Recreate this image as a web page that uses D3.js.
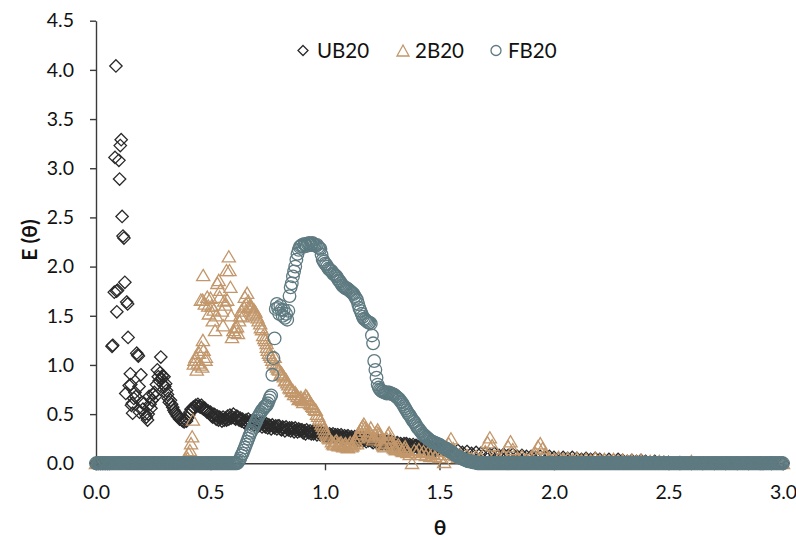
<!DOCTYPE html>
<html>
<head>
<meta charset="utf-8">
<script src="https://cdn.jsdelivr.net/npm/d3@7"></script>
<style>
  body { margin: 0; background: #ffffff; }
  svg { display: block; }
  text { font-family: Lato, "Open Sans", sans-serif; }
</style>
</head>
<body>
<svg id="chart" width="796" height="540"></svg>
<script>
// ---- Axis ticks ----
const xTicks = [0.0, 0.5, 1.0, 1.5, 2.0, 2.5, 3.0];
const yTicks = [0.0, 0.5, 1.0, 1.5, 2.0, 2.5, 3.0, 3.5, 4.0, 4.5];

// ---- Series names (legend order) ----
const seriesNames = ["UB20", "2B20", "FB20"];

// ---- UB20, early part: [theta, E(theta)] ----
const ub20Early = [
  [0.00,0],[0.01,0],[0.02,0],[0.03,0],[0.04,0],[0.05,0],[0.06,0],
  [0.070,1.19],[0.073,1.20],[0.080,1.74],[0.083,3.11],[0.087,4.04],[0.090,1.75],[0.091,1.54],[0.094,1.76],
  [0.100,3.08],[0.103,2.89],[0.106,3.23],[0.110,3.29],[0.114,2.51],[0.118,2.31],[0.122,2.29],[0.126,1.84],
  [0.130,0.71],[0.134,1.64],[0.138,1.62],[0.140,1.28],[0.145,0.79],[0.150,0.91],[0.152,0.80],[0.155,0.59],
  [0.159,0.61],[0.160,0.51],[0.165,0.66],[0.170,0.72],[0.174,0.68],[0.178,1.12],[0.182,1.10],[0.185,1.09],
  [0.188,0.78],[0.190,0.52],[0.196,0.90],[0.200,0.62],[0.205,0.55],[0.210,0.61],[0.215,0.50],[0.220,0.47],
  [0.225,0.44],[0.228,0.50],[0.232,0.68],[0.236,0.60],[0.240,0.56],[0.245,0.64],[0.250,0.70],[0.255,0.72],
  [0.260,0.68],[0.264,0.80],[0.268,0.95],[0.272,0.88],[0.276,0.84],[0.280,0.92],[0.283,1.08],[0.287,0.86],
  [0.290,0.89],[0.294,0.80],[0.297,0.88],[0.300,0.78],[0.304,0.81],[0.308,0.74],[0.312,0.70],[0.316,0.66],
  [0.320,0.62],[0.325,0.64],[0.330,0.60],[0.335,0.57],[0.340,0.54],[0.345,0.52],[0.350,0.50],[0.355,0.48],
  [0.360,0.47],[0.365,0.45],[0.370,0.46],[0.375,0.44],[0.380,0.43],[0.385,0.42],[0.390,0.44],[0.395,0.43],
  [0.400,0.46],[0.405,0.49],[0.410,0.52],[0.415,0.55],[0.420,0.54],[0.425,0.57],[0.430,0.56],[0.435,0.59],
  [0.440,0.58],[0.445,0.60],[0.450,0.58],[0.455,0.57],[0.460,0.59],[0.465,0.56],[0.470,0.55],[0.475,0.56],
  [0.480,0.54],[0.485,0.52],[0.490,0.53],[0.495,0.51]
];

// ---- UB20, main band: E(theta) every 0.005 from theta = 0.500 to 1.500 ----
const ub20BandStart = 0.5;
const ub20BandStep = 0.005;
const ub20Band = [
  0.52,0.48,0.47,0.50,0.49,0.45,0.48,0.44,0.47,0.46,
  0.43,0.47,0.44,0.46,0.44,0.48,0.45,0.49,0.46,0.47,
  0.50,0.46,0.45,0.48,0.47,0.44,0.46,0.43,0.45,0.42,
  0.41,0.44,0.42,0.45,0.40,0.43,0.41,0.44,0.39,0.42,
  0.42,0.39,0.38,0.41,0.40,0.37,0.41,0.38,0.37,0.40,
  0.36,0.39,0.38,0.35,0.39,0.37,0.36,0.38,0.35,0.38,
  0.38,0.35,0.34,0.37,0.36,0.33,0.37,0.35,0.34,0.36,
  0.33,0.36,0.35,0.32,0.36,0.34,0.32,0.35,0.33,0.34,
  0.34,0.31,0.33,0.30,0.34,0.32,0.31,0.33,0.30,0.32,
  0.30,0.33,0.32,0.29,0.32,0.31,0.29,0.32,0.30,0.28,
  0.31,0.28,0.30,0.27,0.30,0.29,0.28,0.30,0.27,0.29,
  0.26,0.29,0.28,0.26,0.29,0.27,0.25,0.28,0.26,0.27,
  0.28,0.25,0.24,0.27,0.26,0.24,0.27,0.25,0.23,0.26,
  0.23,0.26,0.25,0.23,0.26,0.24,0.22,0.25,0.23,0.24,
  0.24,0.22,0.21,0.24,0.23,0.21,0.24,0.22,0.20,0.23,
  0.20,0.23,0.22,0.20,0.22,0.21,0.19,0.22,0.20,0.21,
  0.21,0.19,0.18,0.21,0.20,0.18,0.20,0.19,0.17,0.20,
  0.17,0.20,0.19,0.17,0.19,0.18,0.16,0.19,0.17,0.18,
  0.18,0.16,0.15,0.18,0.17,0.15,0.17,0.16,0.14,0.17,
  0.14,0.17,0.16,0.14,0.16,0.15,0.13,0.16,0.14,0.15,
  0.15
];

// ---- UB20, tail: [theta, E(theta)] ----
const ub20Tail = [
  [1.52,0.13],[1.54,0.14],[1.56,0.12],[1.58,0.13],[1.60,0.11],[1.62,0.12],[1.64,0.10],[1.66,0.11],[1.68,0.10],
  [1.70,0.10],[1.72,0.09],[1.74,0.10],[1.76,0.08],[1.78,0.09],[1.80,0.08],[1.82,0.09],[1.84,0.07],[1.86,0.08],[1.88,0.07],
  [1.90,0.07],[1.92,0.06],[1.94,0.07],[1.96,0.06],[1.98,0.07],[2.00,0.06],[2.02,0.05],[2.04,0.06],[2.06,0.05],[2.08,0.06],
  [2.10,0.05],[2.12,0.04],[2.14,0.05],[2.16,0.04],[2.18,0.05],[2.20,0.04],[2.22,0.03],[2.24,0.04],[2.26,0.03],[2.28,0.04],
  [2.30,0.03],[2.32,0.02],[2.34,0.03],[2.36,0.02],[2.38,0.03],[2.40,0.02],[2.42,0.01],[2.44,0.02],[2.46,0.01],[2.48,0.01],
  [2.50,0.01],[2.55,0],[2.60,0],[2.65,0],[2.70,0],[2.75,0],[2.80,0],[2.85,0],[2.90,0],[2.95,0],[3.00,0]
];

// ---- 2B20: [theta, E(theta)] ----
const b2b20 = [
  [0.00,0],[0.05,0],[0.10,0],[0.15,0],[0.20,0],[0.25,0],[0.30,0],[0.35,0],[0.38,0],
  [0.390,0.02],[0.400,0.05],[0.405,0.10],[0.410,0.13],[0.415,0.20],[0.420,0.27],[0.423,0.44],
  [0.427,1.01],[0.430,1.05],[0.435,1.08],[0.440,0.95],[0.445,1.02],[0.450,1.12],[0.455,1.00],[0.458,1.66],
  [0.460,1.18],[0.464,0.98],[0.466,1.66],[0.467,1.25],[0.468,1.91],[0.470,1.15],[0.475,1.62],[0.478,1.05],
  [0.480,1.08],[0.486,1.69],[0.490,1.60],[0.493,1.52],[0.500,1.68],[0.505,1.60],[0.510,1.45],[0.514,1.56],
  [0.520,1.35],[0.525,1.50],[0.530,1.83],[0.536,1.86],[0.540,1.69],[0.543,1.76],[0.550,1.55],[0.555,1.40],
  [0.560,1.65],[0.565,1.61],[0.570,1.96],[0.573,1.66],[0.580,2.10],[0.583,1.96],[0.587,1.79],[0.590,1.50],
  [0.594,1.28],[0.600,1.35],[0.605,1.33],[0.610,1.38],[0.616,1.39],[0.620,1.32],[0.625,1.45],[0.630,1.50],
  [0.635,1.55],[0.640,1.49],[0.645,1.59],[0.650,1.69],[0.655,1.62],[0.660,1.73],[0.665,1.65],[0.670,1.60],
  [0.674,1.59],[0.680,1.58],[0.685,1.52],[0.690,1.56],[0.696,1.54],[0.700,1.50],[0.705,1.48],[0.710,1.45],
  [0.717,1.42],[0.720,1.38],[0.725,1.36],[0.730,1.30],[0.735,1.27],[0.740,1.25],[0.745,1.22],[0.746,1.18],
  [0.750,1.15],[0.755,1.12],[0.760,1.10],[0.765,1.08],[0.770,1.05],[0.775,1.02],[0.780,1.08],[0.785,1.00],
  [0.790,0.98],[0.795,0.96],[0.800,0.95],[0.805,0.90],[0.810,0.92],[0.815,0.90],[0.820,0.88],[0.825,0.84],
  [0.830,0.85],[0.835,0.82],[0.840,0.80],[0.845,0.77],[0.850,0.76],[0.855,0.73],[0.860,0.74],[0.865,0.70],
  [0.870,0.72],[0.875,0.70],[0.880,0.68],[0.885,0.65],[0.890,0.66],[0.895,0.67],[0.900,0.64],[0.905,0.62],
  [0.910,0.66],[0.915,0.69],[0.920,0.68],[0.925,0.65],[0.930,0.64],[0.935,0.61],[0.940,0.60],[0.945,0.58],
  [0.950,0.57],[0.955,0.55],[0.960,0.54],[0.965,0.50],[0.970,0.48],[0.975,0.45],[0.980,0.43],[0.985,0.40],
  [0.990,0.38],[0.995,0.35],[1.000,0.32],[1.005,0.30],[1.010,0.28],[1.015,0.26],[1.020,0.25],[1.030,0.22],
  [1.035,0.20],[1.040,0.19],[1.045,0.22],[1.050,0.23],[1.055,0.19],[1.060,0.18],[1.065,0.20],[1.070,0.21],
  [1.075,0.18],[1.080,0.17],[1.085,0.19],[1.090,0.20],[1.095,0.17],[1.100,0.16],[1.105,0.19],[1.110,0.21],
  [1.115,0.17],[1.120,0.18],[1.125,0.20],[1.130,0.24],[1.135,0.22],[1.140,0.20],[1.145,0.26],[1.150,0.30],
  [1.155,0.33],[1.160,0.36],[1.165,0.38],[1.170,0.40],[1.175,0.36],[1.180,0.33],[1.185,0.29],[1.190,0.27],
  [1.195,0.32],[1.200,0.36],[1.205,0.28],[1.210,0.24],[1.215,0.26],[1.220,0.30],[1.225,0.32],[1.230,0.34],
  [1.235,0.30],[1.240,0.28],[1.245,0.23],[1.250,0.20],[1.255,0.18],[1.260,0.17],[1.265,0.21],[1.270,0.25],
  [1.275,0.29],[1.280,0.31],[1.285,0.25],[1.290,0.21],[1.295,0.18],[1.300,0.16],[1.305,0.15],[1.310,0.14],
  [1.315,0.17],[1.320,0.19],[1.325,0.17],[1.330,0.15],[1.335,0.13],[1.340,0.12],[1.345,0.15],[1.350,0.17],
  [1.355,0.14],[1.36,0.11],[1.37,0.09],[1.38,0.00],[1.39,0.13],[1.40,0.11],[1.41,0.14],
  [1.42,0.09],[1.43,0.12],[1.44,0.08],[1.45,0.11],[1.46,0.07],[1.47,0.10],[1.48,0.07],[1.49,0.09],
  [1.50,0.06],[1.51,0.09],[1.52,0.01],[1.53,0.12],[1.54,0.20],[1.55,0.25],[1.56,0.15],[1.57,0.08],
  [1.58,0.06],[1.59,0.09],[1.60,0.06],[1.62,0.08],[1.64,0.05],[1.66,0.07],[1.68,0.05],[1.70,0.12],
  [1.71,0.21],[1.72,0.26],[1.73,0.18],[1.74,0.07],[1.76,0.05],[1.78,0.08],[1.80,0.17],[1.81,0.22],
  [1.82,0.14],[1.84,0.05],[1.86,0.07],[1.88,0.04],[1.90,0.06],[1.92,0.10],[1.93,0.17],[1.94,0.20],
  [1.95,0.15],[1.96,0.09],[1.98,0.05],[2.00,0.04],[2.02,0.06],[2.04,0.04],[2.06,0.05],[2.08,0.03],
  [2.10,0.05],[2.12,0.03],[2.14,0.04],[2.16,0.03],[2.18,0.05],[2.20,0.03],[2.22,0.04],[2.24,0.02],
  [2.26,0.04],[2.28,0.02],[2.30,0.03],[2.32,0.02],[2.34,0.03],[2.36,0.02],[2.38,0.03],[2.40,0.01],
  [2.42,0.02],[2.44,0.01],[2.46,0.02],[2.48,0.01],[2.50,0.01],[2.55,0.01],[2.60,0.02],[2.65,0.00],
  [2.70,0],[2.80,0],[2.90,0],[3.00,0]
];

// ---- FB20: E(theta) sampled every 0.005 in theta, from 0.000 to 3.000 ----
const fb20Step = 0.005;
const fb20 = [
  // 0.000 - 0.615
  0,0,0,0,0,0,0,0,0,0,0,0,0,0,0,0,0,0,0,0,
  0,0,0,0,0,0,0,0,0,0,0,0,0,0,0,0,0,0,0,0,
  0,0,0,0,0,0,0,0,0,0,0,0,0,0,0,0,0,0,0,0,
  0,0,0,0,0,0,0,0,0,0,0,0,0,0,0,0,0,0,0,0,
  0,0,0,0,0,0,0,0,0,0,0,0,0,0,0,0,0,0,0,0,
  0,0,0,0,0,0,0,0,0,0,0,0,0,0,0,0,0,0,0,0,
  0,0,0,0,
  // 0.620 - 1.665
  0.01,0.03,0.05,0.08,0.10,0.13,0.16,0.19,0.22,0.25,
  0.28,0.31,0.33,0.36,0.38,0.41,0.43,0.46,0.48,0.50,
  0.52,0.54,0.55,0.57,0.58,0.59,0.61,0.64,0.67,0.69,
  0.90,1.07,1.27,1.57,1.62,1.58,1.52,1.60,1.56,1.50,
  1.56,1.48,1.52,1.46,1.55,1.70,1.79,1.83,1.90,1.95,
  2.00,2.07,2.13,2.17,2.20,2.21,2.22,2.20,2.23,2.22,
  2.21,2.23,2.24,2.22,2.22,2.24,2.23,2.22,2.21,2.22,
  2.20,2.19,2.18,2.12,2.07,2.05,2.03,2.02,2.00,1.98,
  1.97,1.96,1.95,1.93,1.92,1.91,1.90,1.88,1.86,1.85,
  1.83,1.81,1.80,1.79,1.78,1.78,1.77,1.76,1.75,1.74,
  1.73,1.72,1.70,1.68,1.66,1.62,1.58,1.55,1.52,1.49,
  1.47,1.46,1.45,1.44,1.43,1.43,1.42,1.30,1.22,1.04,
  0.95,0.87,0.80,0.77,0.75,0.74,0.73,0.73,0.72,0.72,
  0.71,0.72,0.72,0.71,0.71,0.70,0.70,0.69,0.68,0.67,
  0.66,0.65,0.63,0.62,0.60,0.58,0.56,0.54,0.52,0.50,
  0.49,0.47,0.45,0.43,0.42,0.40,0.38,0.36,0.35,0.33,
  0.32,0.30,0.29,0.28,0.27,0.26,0.25,0.24,0.23,0.22,
  0.22,0.21,0.21,0.20,0.20,0.19,0.19,0.18,0.17,0.16,
  0.16,0.15,0.15,0.14,0.13,0.12,0.12,0.11,0.10,0.09,
  0.08,0.08,0.07,0.06,0.06,0.05,0.05,0.04,0.04,0.03,
  0.03,0.02,0.02,0.02,0.02,0.01,0.01,0.01,0.01,0.00,
  // 1.670 - 3.000
  0,0,0,0,0,0,0,0,0,0,0,0,0,0,0,0,0,0,0,0,
  0,0,0,0,0,0,0,0,0,0,0,0,0,0,0,0,0,0,0,0,
  0,0,0,0,0,0,0,0,0,0,0,0,0,0,0,0,0,0,0,0,
  0,0,0,0,0,0,0,0,0,0,0,0,0,0,0,0,0,0,0,0,
  0,0,0,0,0,0,0,0,0,0,0,0,0,0,0,0,0,0,0,0,
  0,0,0,0,0,0,0,0,0,0,0,0,0,0,0,0,0,0,0,0,
  0,0,0,0,0,0,0,0,0,0,0,0,0,0,0,0,0,0,0,0,
  0,0,0,0,0,0,0,0,0,0,0,0,0,0,0,0,0,0,0,0,
  0,0,0,0,0,0,0,0,0,0,0,0,0,0,0,0,0,0,0,0,
  0,0,0,0,0,0,0,0,0,0,0,0,0,0,0,0,0,0,0,0,
  0,0,0,0,0,0,0,0,0,0,0,0,0,0,0,0,0,0,0,0,
  0,0,0,0,0,0,0,0,0,0,0,0,0,0,0,0,0,0,0,0,
  0,0,0,0,0,0,0,0,0,0,0,0,0,0,0,0,0,0,0,0,
  0,0,0,0,0,0,0
];

// Full UB20 point list built from its three parts
const ub20 = ub20Early
  .concat(ub20Band.map((e, i) => [ub20BandStart + i * ub20BandStep, e]))
  .concat(ub20Tail);
const fb20Points = fb20.map((e, i) => [i * fb20Step, e]);

// ---- Styling ----
const colors = { UB20: "#2a2a2a", "2B20": "#c2976b", FB20: "#5e7a81" };
const markerPaths = {
  UB20: "M0,-6.2L6.2,0L0,6.2L-6.2,0Z",
  "2B20": "M0,-6L6.6,5.2L-6.6,5.2Z"
};

const svg = d3.select("#chart");
const x = d3.scaleLinear().domain([0, 3]).range([96, 783]);
const y = d3.scaleLinear().domain([0, 4.5]).range([463.3, 20.7]);

// Axes
const yAxis = svg.append("g")
  .attr("transform", `translate(${x(0)},0)`)
  .call(d3.axisLeft(y).tickValues(yTicks).tickFormat(d3.format(".1f"))
    .tickSize(6).tickSizeOuter(0).tickPadding(16));
const xAxis = svg.append("g")
  .attr("transform", `translate(0,${y(0)})`)
  .call(d3.axisBottom(x).tickValues(xTicks).tickFormat(d3.format(".1f"))
    .tickSize(7).tickSizeOuter(0).tickPadding(15));

[yAxis, xAxis].forEach(a => {
  a.select(".domain").attr("stroke", "#3a3a3a").attr("stroke-width", 1.4);
  a.selectAll(".tick line").attr("stroke", "#3a3a3a").attr("stroke-width", 1.4);
  a.selectAll(".tick text")
    .attr("fill", "#111")
    .style("font-size", "19.5px")
    .style("font-family", "Lato, sans-serif");
});

// Series layers: UB20, then 2B20, then FB20 on top
const plot = svg.append("g");

plot.append("g").selectAll("path")
  .data(ub20)
  .join("path")
  .attr("d", markerPaths.UB20)
  .attr("transform", d => `translate(${x(d[0])},${y(d[1])})`)
  .attr("fill", "none")
  .attr("stroke", colors.UB20)
  .attr("stroke-width", 1.3);

plot.append("g").selectAll("path")
  .data(b2b20)
  .join("path")
  .attr("d", markerPaths["2B20"])
  .attr("transform", d => `translate(${x(d[0])},${y(d[1])})`)
  .attr("fill", "none")
  .attr("stroke", colors["2B20"])
  .attr("stroke-width", 1.3);

plot.append("g").selectAll("circle")
  .data(fb20Points)
  .join("circle")
  .attr("cx", d => x(d[0]))
  .attr("cy", d => y(d[1]))
  .attr("r", 6.3)
  .attr("fill", "none")
  .attr("stroke", colors.FB20)
  .attr("stroke-width", 1.3);

// Axis titles
svg.append("text")
  .attr("transform", "translate(37,240) rotate(-90)")
  .attr("text-anchor", "middle")
  .style("font-size", "21px")
  .style("font-weight", "bold")
  .attr("fill", "#111")
  .text("E (θ)");

svg.append("text")
  .attr("x", 440)
  .attr("y", 535)
  .attr("text-anchor", "middle")
  .style("font-size", "21px")
  .style("font-weight", "bold")
  .attr("fill", "#111")
  .text("θ");

// Legend
const legend = svg.append("g");
const legendItems = [
  { name: seriesNames[0], mx: 303, tx: 317 },
  { name: seriesNames[1], mx: 403, tx: 415 },
  { name: seriesNames[2], mx: 496, tx: 508 }
];
legendItems.forEach(it => {
  if (it.name === "FB20") {
    legend.append("circle").attr("cx", it.mx).attr("cy", 50.5).attr("r", 5)
      .attr("fill", "none").attr("stroke", colors.FB20).attr("stroke-width", 1.3);
  } else if (it.name === "UB20") {
    legend.append("path").attr("d", "M0,-5L5,0L0,5L-5,0Z")
      .attr("transform", `translate(${it.mx},50.5)`)
      .attr("fill", "none").attr("stroke", colors.UB20).attr("stroke-width", 1.3);
  } else {
    legend.append("path").attr("d", "M0,-5.5L6,5.5L-6,5.5Z")
      .attr("transform", `translate(${it.mx},50.5)`)
      .attr("fill", "none").attr("stroke", colors["2B20"]).attr("stroke-width", 1.3);
  }
  legend.append("text")
    .attr("x", it.tx).attr("y", 57.5)
    .style("font-size", "20.5px")
    .attr("fill", "#111")
    .text(it.name);
});
</script>
</body>
</html>
